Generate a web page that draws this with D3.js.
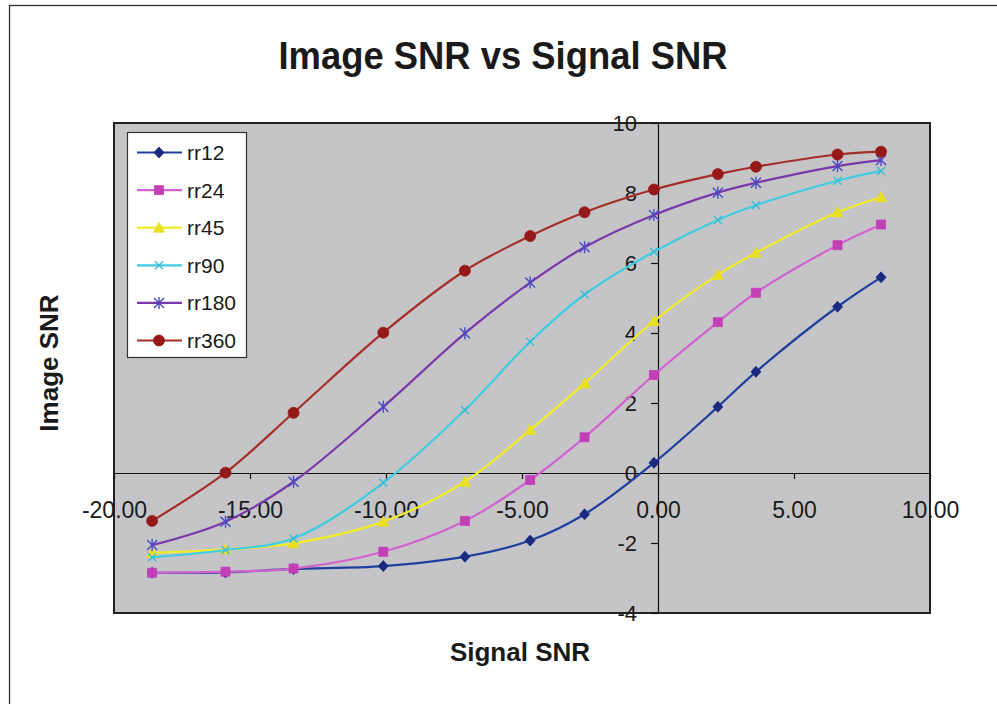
<!DOCTYPE html>
<html>
<head>
<meta charset="utf-8">
<script src="https://cdn.jsdelivr.net/npm/d3@7"></script>
<style>
  body { margin: 0; background: #fff; }
  text { font-family: "Liberation Sans", Arial, sans-serif; fill: #1a1a1a; }
</style>
</head>
<body>
<script>
// Values
const signalSNR = [-18.6, -15.9, -13.4, -10.1, -7.1, -4.7, -2.7, -0.15, 2.2, 3.6, 6.6, 8.2];
const rr12  = [-2.85, -2.84, -2.74, -2.66, -2.39, -1.93, -1.18, 0.29, 1.89, 2.89, 4.75, 5.59];
const rr24  = [-2.85, -2.82, -2.73, -2.25, -1.37, -0.2, 1.02, 2.8, 4.31, 5.15, 6.51, 7.1];
const rr45  = [-2.28, -2.18, -2.01, -1.39, -0.25, 1.23, 2.56, 4.34, 5.66, 6.29, 7.45, 7.88];
const rr90  = [-2.41, -2.2, -1.87, -0.28, 1.8, 3.75, 5.1, 6.32, 7.23, 7.65, 8.35, 8.63];
const rr180 = [-2.06, -1.39, -0.25, 1.89, 3.99, 5.44, 6.45, 7.37, 8.01, 8.29, 8.77, 8.94];
const rr360 = [-1.37, 0.01, 1.72, 4.01, 5.78, 6.77, 7.45, 8.1, 8.54, 8.75, 9.1, 9.18];
const seriesNames = ["rr12", "rr24", "rr45", "rr90", "rr180", "rr360"];
const seriesValues = [rr12, rr24, rr45, rr90, rr180, rr360];
const xTicks = [-20, -15, -10, -5, 0, 5, 10];
const yTicks = [-4, -2, 0, 2, 4, 6, 8, 10];

// look of each series: line colour, marker colour, marker kind
const styles = [
  { line: "#1f3f9f", mark: "#1a2a80", kind: "diamond" },
  { line: "#d262cf", mark: "#c23fb8", kind: "square" },
  { line: "#f0ec28", mark: "#e8e020", kind: "triangle" },
  { line: "#40cce0", mark: "#38bcd8", kind: "x" },
  { line: "#7a38aa", mark: "#4a48c4", kind: "star" },
  { line: "#a62e28", mark: "#961818", kind: "circle" }
];

const W = 997, H = 704;
const plot = { left: 114, top: 123, right: 930, bottom: 613 };

const svg = d3.select("body").append("svg")
  .attr("width", W).attr("height", H);

// outer chart frame (runs off the right/bottom edge)
svg.append("rect")
  .attr("x", 9.5).attr("y", 5.5)
  .attr("width", W + 20).attr("height", H + 20)
  .attr("fill", "#fff").attr("stroke", "#333").attr("stroke-width", 1.3);

var xScale = d3.scaleLinear().domain([-20, 10]).range([plot.left, plot.right]);
var yScale = d3.scaleLinear().domain([-4, 10]).range([plot.bottom, plot.top]);

// plot area
svg.append("rect")
  .attr("x", plot.left).attr("y", plot.top)
  .attr("width", plot.right - plot.left).attr("height", plot.bottom - plot.top)
  .attr("fill", "#c5c5c7").attr("stroke", "#222").attr("stroke-width", 2);

// axes cross at zero
var xAxis = d3.axisBottom(xScale).tickValues(xTicks).tickSize(6).tickSizeOuter(0)
  .tickPadding(23).tickFormat(d => d.toFixed(2));
var yAxis = d3.axisLeft(yScale).tickValues(yTicks).tickSize(7).tickSizeOuter(0)
  .tickPadding(14).tickFormat(d => String(d));

var gx = svg.append("g")
  .attr("transform", "translate(0," + yScale(0) + ")")
  .call(xAxis);
var gy = svg.append("g")
  .attr("transform", "translate(" + xScale(0) + ",0)")
  .call(yAxis);
[gx, gy].forEach(g => {
  g.select(".domain").attr("stroke", "#111").attr("stroke-width", 1.2);
  g.selectAll(".tick line").attr("stroke", "#111").attr("stroke-width", 1.2);
  g.selectAll(".tick text").attr("font-size", 22).attr("fill", "#1a1a1a")
    .attr("font-family", "Liberation Sans, Arial, sans-serif");
});
gx.selectAll(".tick text").attr("font-size", 23);

// marker shapes
function markerPath(kind) {
  if (kind === "diamond") return "M0,-5.5L5,0L0,5.5L-5,0Z";
  if (kind === "square") return "M-4.5,-4.5H4.5V4.5H-4.5Z";
  if (kind === "triangle") return "M0,-5.5L5.5,4.5H-5.5Z";
  if (kind === "x") return "M-4,-4L4,4M-4,4L4,-4";
  if (kind === "star") return "M-5,-5L5,5M-5,5L5,-5M0,-6V6";
  return d3.symbol().type(d3.symbolCircle).size(95)();
}

var line = d3.line()
  .curve(d3.curveCatmullRom.alpha(0.5))
  .x(d => xScale(d[0]))
  .y(d => yScale(d[1]));

var data = seriesNames.map((name, i) => ({
  name: name,
  style: styles[i],
  values: signalSNR.map((x, j) => [x, seriesValues[i][j]])
}));

var series = svg.selectAll(".series")
  .data(data)
  .enter().append("g").attr("class", "series");

series.append("path")
  .attr("fill", "none")
  .attr("stroke", d => d.style.line)
  .attr("stroke-width", 2.2)
  .attr("d", d => line(d.values));

series.each(function (d) {
  var stroked = d.style.kind === "x" || d.style.kind === "star";
  d3.select(this).selectAll(".pt")
    .data(d.values)
    .enter().append("path")
    .attr("transform", p => "translate(" + xScale(p[0]) + "," + yScale(p[1]) + ")")
    .attr("d", markerPath(d.style.kind))
    .attr("fill", stroked ? "none" : d.style.mark)
    .attr("stroke", d.style.mark)
    .attr("stroke-width", stroked ? 1.4 : 0.8);
});

// legend
var legend = svg.append("g").attr("transform", "translate(127,132)");
legend.append("rect")
  .attr("x", 0.5).attr("y", 0.5).attr("width", 119).attr("height", 225)
  .attr("fill", "#fff").attr("stroke", "#333").attr("stroke-width", 1.2);
var item = legend.selectAll(".item")
  .data(data)
  .enter().append("g")
  .attr("transform", (d, i) => "translate(0," + (20.5 + i * 37.6) + ")");
item.append("line")
  .attr("x1", 10).attr("x2", 55).attr("y1", 0).attr("y2", 0)
  .attr("stroke", d => d.style.line).attr("stroke-width", 2.2);
item.append("path")
  .attr("transform", "translate(32,0)")
  .attr("d", d => markerPath(d.style.kind))
  .attr("fill", d => (d.style.kind === "x" || d.style.kind === "star") ? "none" : d.style.mark)
  .attr("stroke", d => d.style.mark)
  .attr("stroke-width", d => (d.style.kind === "x" || d.style.kind === "star") ? 1.4 : 0.8);
item.append("text")
  .attr("x", 60).attr("y", 7.5)
  .attr("font-size", 21)
  .text(d => d.name);

// titles
svg.append("text")
  .attr("x", 503).attr("y", 69)
  .attr("text-anchor", "middle")
  .attr("font-size", 39).attr("font-weight", "bold")
  .attr("textLength", 449).attr("lengthAdjust", "spacingAndGlyphs")
  .text("Image SNR vs Signal SNR");

svg.append("text")
  .attr("x", 520).attr("y", 661)
  .attr("text-anchor", "middle")
  .attr("font-size", 26).attr("font-weight", "bold")
  .text("Signal SNR");

svg.append("text")
  .attr("transform", "translate(58,363) rotate(-90)")
  .attr("text-anchor", "middle")
  .attr("font-size", 26).attr("font-weight", "bold")
  .text("Image SNR");
</script>
</body>
</html>
